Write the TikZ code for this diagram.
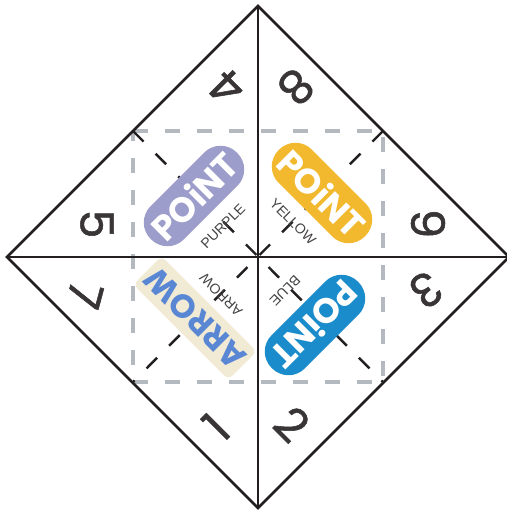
\documentclass[tikz,border=0pt]{standalone}
\usepackage{fontspec}
\setmainfont{Liberation Sans}
\newfontfamily\digitfont{Poppins}
\newfontfamily\digitheavy{Poppins}[FakeBold=1.2]
\usepackage{tikz}
\usetikzlibrary{positioning, calc}
\definecolor{inkdark}{HTML}{231F20}
\definecolor{creasegray}{HTML}{B4B9BF}
\definecolor{pillpurple}{HTML}{9C9DCA}
\definecolor{pillyellow}{HTML}{F2B92F}
\definecolor{pillblue}{HTML}{1A8CCB}
\definecolor{arrowblue}{HTML}{5A87D4}
\definecolor{stickerbeige}{HTML}{F1EAD5}
\tikzset{
  outerline/.style={
    line width=2.6pt,
    draw=inkdark
  },
  squareline/.style={
    line width=3.2pt,
    draw=creasegray,
    dash pattern=on 15pt off 17pt
  },
  creaseline/.style={
    line width=2.4pt,
    draw=inkdark,
    dash pattern=on 15pt off 17pt
  },
  numlabel/.style={
    font=\digitheavy\fontsize{46}{46}\selectfont,
    text=inkdark!90,
    inner sep=0pt
  },
  pillbox/.style={
    rectangle,
    rounded corners=23pt,
    minimum width=122pt,
    minimum height=47pt,
    inner sep=0pt,
    text=white,
    font=\digitfont\bfseries\fontsize{35}{35}\selectfont
  },
  colorlabel/.style={
    font=\fontsize{14}{14}\selectfont,
    text=inkdark!85,
    inner sep=0pt
  }
}
\begin{document}
\begin{tikzpicture}[x=1pt, y=-1pt]
  \useasboundingbox (0,0) rectangle (506,513);

  % corners of the paper and of the inner square
  \coordinate (top) at (258,6);
  \coordinate (bottom) at (258,508);
  \coordinate (left) at (7,257);
  \coordinate (right) at (509,257);
  \coordinate (sqnw) at (133,131);
  \coordinate (sqne) at (383,131);
  \coordinate (sqse) at (383,382);
  \coordinate (sqsw) at (133,382);

  \draw[squareline] (sqnw) -- (sqne) -- (sqse) -- (sqsw) -- cycle;
  \draw[creaseline] (sqnw) -- (sqse);
  \draw[creaseline] (sqne) -- (sqsw);
  \draw[outerline] (top) -- (right) -- (bottom) -- (left) -- cycle;
  \draw[outerline] (top) -- (bottom);
  \draw[outerline] (left) -- (right);

  % numbers
  \node[numlabel, rotate=135] (n4) at (227,88) {4};
  \node[numlabel, rotate=-135] (n8) at (296,87) {8};
  \node[numlabel, rotate=-90] (n5) at (97,224) {5};
  \node[numlabel, rotate=90] (n6) at (428,224) {6};
  \node[numlabel, rotate=-105] (n7) at (85,295) {7};
  \node[numlabel, rotate=215] (n3) at (426,290) {3};
  \node[numlabel, rotate=45] (n1) at (216,427) {1};
  \node[numlabel, rotate=-45] (n2) at (292,424) {2};

  % colour flaps
  \node[pillbox, fill=pillpurple, rotate=45] (purplepill) at (194,196) {POiNT};
  \node[colorlabel, rotate=45] (purplelbl) at (223,226) {PURPLE};
  \node[pillbox, fill=pillyellow, rotate=-45] (yellowpill) at (322,193) {POiNT};
  \node[colorlabel, rotate=-45] (yellowlbl) at (293,222) {YELLOW};
  \node[pillbox, fill=pillblue, rotate=225] (bluepill) at (315,325) {POiNT};
  \node[colorlabel, rotate=225] (bluelbl) at (285,291) {BLUE};
  \node[rectangle, rounded corners=6pt, fill=stickerbeige, text=arrowblue,
    rotate=135, minimum width=130pt, minimum height=40pt,
    font=\digitfont\bfseries\fontsize{33}{33}\selectfont] (arrowtag) at (195,318) {ARROW};
  \node[colorlabel, rotate=135] (arrowlbl) at (221,295) {ARROW};
\end{tikzpicture}
\end{document}
